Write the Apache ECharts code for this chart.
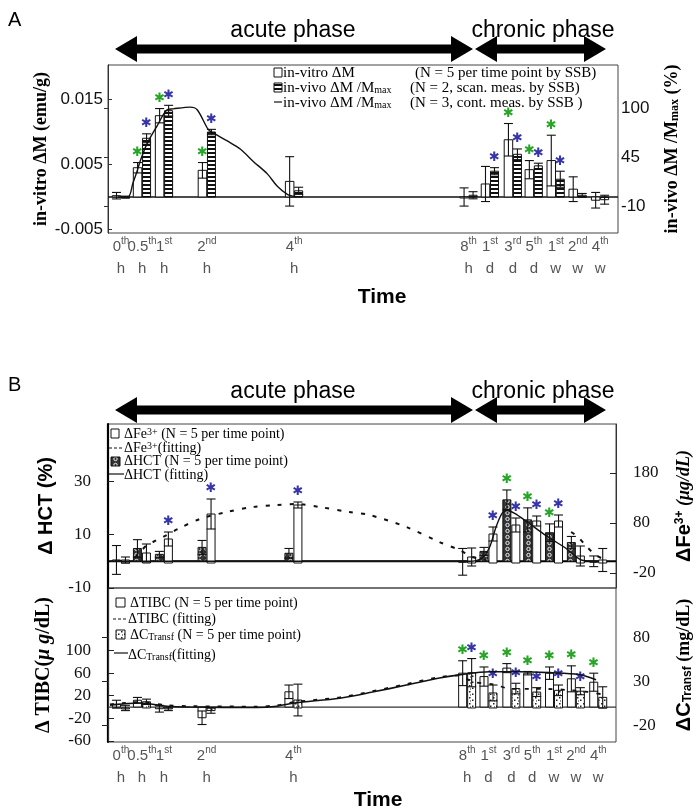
<!DOCTYPE html>
<html><head><meta charset="utf-8">
<script src="https://cdn.jsdelivr.net/npm/echarts@6/dist/echarts.min.js"></script>
<style>html,body{margin:0;padding:0;background:#fff}#c{width:698px;height:812px}</style>
</head><body><div id="c"></div><script>
// ---------- categories (time points) ----------
const timeLabels = [['0','th','h'],['0.5','th','h'],['1','st','h'],['2','nd','h'],['4','th','h'],['8','th','h'],['1','st','d'],['3','rd','d'],['5','th','d'],['1','st','w'],['2','nd','w'],['4','th','w']];
// position of each time point on the (compressed, broken) time axis, 0..100
const timeSlot = [2.55, 6.68, 11.0, 19.4, 36.5, 70.7, 74.9, 79.4, 83.5, 87.8, 92.1, 96.5];

// ---------- panel A ----------
const inVitroDM    = [0.0002, 0.0045, 0.0125, 0.0041, 0.0024, 0.0000, 0.0020, 0.0088, 0.0042, 0.0056, 0.0012, -0.0005];
const inVitroErr   = [0.0005, 0.0008, 0.0011, 0.0012, 0.0038, 0.0014, 0.0027, 0.0025, 0.0014, 0.0039, 0.0019, 0.0012];
const inVitroSig   = [0,1,1,1,0,0,0,1,1,1,0,0];
const inVivoScan   = [0, 66, 97, 73, 7, 2, 29, 48, 35, 20, 2, -3];
const inVivoScanErr= [1, 5, 6, 3, 4, 4, 4, 6, 3, 9, 2, 5];
const inVivoScanSig= [0,1,1,1,0,0,1,1,1,1,0,0];
const contSlot = [1.96, 3.93, 4.91, 5.70, 6.29, 7.66, 9.63, 11.59, 12.77, 16.11, 17.49, 19.65, 20.63, 23.38, 25.93, 28.49, 31.24, 33.20, 35.17, 36.94];
const contVal  = [0, 0, 16, 29, 40, 60, 80, 98, 99, 101, 98, 76, 72, 63, 54, 40, 26, 12, 3, 0];

// ---------- panel B top ----------
const hct    = [0.5, 4.8, 2.6, 5.2, 3.0, -0.2, 3.7, 23, 15.5, 10.7, 7, 0];
const hctErr = [5.4, 3.3, 1.1, 2.6, 1.8, 5, 1.5, 3.7, 4.5, 3.3, 2.3, 2];
const hctSig = [0,0,0,0,0,0,0,1,1,1,0,0];
const fe     = [6, 20, 48, 98, 116, 12, 58, 76, 84, 84, 14, 6];
const feErr  = [6, 18, 14, 30, 6, 18, 14, 14, 10, 12, 20, 23];
const feSig  = [0,0,1,1,1,0,1,1,1,1,0,0];
const feFitSlot = [5.30, 7.66, 8.84, 10.81, 14.15, 18.07, 23.38, 28.49, 33.20, 37.33, 41.65, 47.54, 51.47, 58.74, 65.23, 69.16, 71.71, 74.46, null, 91.16, 92.53, 94.30, 96.27, 98.62];
const feFitVal  = [10, 36, 42, 52, 70, 88, 102, 112, 116, 118, 112, 102, 96, 72, 42, 26, 12, 6, null, 62, 52, 32, 14, 4];
const hctFitSlot = [0.39, 71.12, 73.48, 75.05, 76.42, 77.60, 78.59, 79.96, 82.32, 86.25, 90.18, 93.32, 96.66];
const hctFitVal  = [0, 0, 1, 5, 13, 18, 19, 18, 15, 9.6, 4.8, 0.4, 0];

// ---------- panel B bottom ----------
const tibc      = [5, 12, -3, -19, 27, 60, 54, 69, 60, 60, 50, 44];
const tibcErr   = [7, 5, 6, 12, 12, 22, 17, 8, 3, 11, 23, 16];
const tibcSig   = [0,0,0,0,0,1,1,1,1,1,1,1];
const transf    = [0, 7, -1, -3, 9, 40, 17, 22, 18, 20, 19, 12];
const transfErr = [3, 3, 2, 3, 18, 16, 9, 6, 5, 6, 4, 12];
const transfSig = [0,0,0,0,0,1,1,1,1,1,1,0];
const tibcFitSlot = [0.39, 6.29, 11.59, 16.11, 29.27, 33.20, 36.74, 45.58, 52.06, 58.74, 65.23, 69.16, 71.71, 76.03, 79.37, 83.30, 86.64, 90.77, 94.30, 97.64];
const tibcFitVal  = [4.7, 8.9, 3, 1.6, 0.8, 3, 8.9, 17.2, 28, 40.7, 53, 56, 45, 40, 32, 32, 32, 30, 27, 22];
const transfFitSlot = [0.39, 6.29, 11.59, 16.11, 29.27, 33.20, 36.74, 45.58, 52.06, 58.74, 65.23, 69.16, 75.05, 80.94, 86.84, 92.73, 96.07];
const transfFitVal  = [3, 5.7, 2, 1, 0.5, 2, 5.7, 11, 18, 26, 34, 37.5, 41, 41, 40, 38, 32];

// ---------- tick labels ----------
const ticksA_L = [-0.005, 0.005, 0.015];
const ticksA_R = [-10, 45, 100];
const ticksB1_L = [-10, 10, 30];
const ticksB1_R = [-20, 80, 180];
const ticksB2_L = [-60, -20, 20, 60, 100];
const ticksB2_R = [-20, 30, 80];

// ---------- patterns ----------
function pat(w, h, draw) {
  const c = document.createElement('canvas'); c.width = w; c.height = h;
  const ctx = c.getContext('2d'); draw(ctx); return { image: c, repeat: 'repeat' };
}
const stripe = pat(4, 4, ctx => { ctx.fillStyle = '#fff'; ctx.fillRect(0,0,4,4); ctx.fillStyle = '#111'; ctx.fillRect(0,0,4,2); });
const checker = pat(7, 6, ctx => { ctx.fillStyle = '#333'; ctx.fillRect(0,0,7,6); ctx.strokeStyle = '#eee'; ctx.lineWidth = 1; ctx.beginPath(); ctx.arc(3.5,3,1.7,0,Math.PI*2); ctx.stroke(); });
const dotted = pat(6, 6, ctx => { ctx.fillStyle = '#fff'; ctx.fillRect(0,0,6,6); ctx.fillStyle = '#222'; ctx.fillRect(1,1,1.5,1.5); ctx.fillRect(4,3.5,1.5,1.5); ctx.fillRect(2,4.5,1,1); });

const GREEN = '#27a527', BLUE = '#3535a8';

function barRender(offset, width, fill, starColor) {
  return function (params, api) {
    const s = api.value(0), v = api.value(1), e = api.value(2), sig = api.value(3);
    const base = api.coord([s, 0]), top = api.coord([s, v]);
    const hi = api.coord([s, v + e]), lo = api.coord([s, v - e]);
    const cx = base[0] + offset;
    const yTop = Math.min(base[1], top[1]);
    const h = Math.max(Math.abs(base[1] - top[1]), 1);
    const ls = { stroke: '#111', lineWidth: 1.1 };
    const ch = [
      { type: 'rect', shape: { x: cx - width / 2, y: yTop, width: width, height: h }, style: { fill: fill, stroke: '#111', lineWidth: 1 } },
      { type: 'line', shape: { x1: cx, y1: hi[1], x2: cx, y2: lo[1] }, style: ls },
      { type: 'line', shape: { x1: cx - 4.5, y1: hi[1], x2: cx + 4.5, y2: hi[1] }, style: ls },
      { type: 'line', shape: { x1: cx - 4.5, y1: lo[1], x2: cx + 4.5, y2: lo[1] }, style: ls }
    ];
    if (sig) ch.push({ type: 'text', x: cx, y: Math.min(hi[1], yTop) - 10,
      style: { text: '✱', fill: starColor, fontSize: 13, fontFamily: 'DejaVu Sans', align: 'center', verticalAlign: 'middle' } });
    return { type: 'group', children: ch };
  };
}
function barData(vals, errs, sig) { return timeSlot.map((s, i) => [s, vals[i], errs[i], sig[i]]); }
function lineData(xs, ys) { return xs.map((x, i) => x === null ? [null, null] : [x, ys[i]]); }

const labelRich = {
  n: { fontFamily: 'Liberation Sans', fontSize: 15, color: '#555', lineHeight: 22 },
  s: { fontFamily: 'Liberation Sans', fontSize: 10, color: '#555', lineHeight: 14, verticalAlign: 'top' },
  u: { fontFamily: 'Liberation Sans', fontSize: 15, color: '#555', lineHeight: 22 }
};
function timeFmt(val) {
  const i = timeSlot.findIndex(s => Math.abs(s - val) < 0.01);
  if (i < 0) return '';
  const t = timeLabels[i];
  return '{n|' + t[0] + '}{s|' + t[1] + '}\n{u|' + t[2] + '}';
}
// labels split over two axes per panel so neighbouring labels are never auto-hidden
const slotsEven = timeSlot.filter((s, i) => i % 2 === 0);
const slotsOdd = timeSlot.filter((s, i) => i % 2 === 1);
function xAx(gi, labelSlots) {
  return { gridIndex: gi, type: 'value', position: 'bottom', offset: 0, min: 0, max: 100, axisLine: { show: false }, axisTick: { show: false }, splitLine: { show: false },
    axisLabel: { show: !!labelSlots, customValues: labelSlots || timeSlot, formatter: timeFmt, rich: labelRich, margin: 3, interval: 0,
      showMinLabel: true, showMaxLabel: true, hideOverlap: false } };
}
function yAx(gi, pos, min, max, ticks, opts) {
  return Object.assign({ gridIndex: gi, type: 'value', position: pos, min: min, max: max, splitLine: { show: false },
    axisLine: { show: true, lineStyle: { color: '#333', width: 1 } },
    axisTick: { show: true, inside: true, length: 6, customValues: ticks, lineStyle: { color: '#222' } },
    axisLabel: { customValues: ticks, color: '#111', fontFamily: 'Liberation Serif', fontSize: 17, margin: 17, showMinLabel: true, showMaxLabel: true },
    nameLocation: 'middle', nameRotate: 90, nameMoveOverlap: false }, opts);
}
const serifBold = { fontFamily: 'Liberation Serif', fontWeight: 'bold', fontSize: 18, color: '#000' };
const sansBold = { fontFamily: 'Liberation Sans', fontWeight: 'bold', fontSize: 20, color: '#000' };

function arrow(x1, x2, y) {
  const hd = 22, hh = 13, sh = 4.5;
  return { type: 'polygon', shape: { points: [[x1,y],[x1+hd,y-hh],[x1+hd,y-sh],[x2-hd,y-sh],[x2-hd,y-hh],[x2,y],[x2-hd,y+hh],[x2-hd,y+sh],[x1+hd,y+sh],[x1+hd,y+hh]] }, style: { fill: '#000' } };
}
function txt(x, y, text, style) {
  return { type: 'text', x: x, y: y, style: Object.assign({ text: text, fill: '#000', verticalAlign: 'middle' }, style) };
}
const legSerif = { fontFamily: 'Liberation Serif', fontSize: 15 };
const legSerifB = { fontFamily: 'Liberation Serif', fontSize: 14 };
const subRich = {
  s: { fontFamily: 'Liberation Serif', fontSize: 10, verticalAlign: 'bottom', lineHeight: 10 },
  p: { fontFamily: 'Liberation Serif', fontSize: 10, verticalAlign: 'top', lineHeight: 10 }
};

const graphic = [
  txt(8, 20, 'A', { fontFamily: 'Liberation Sans', fontSize: 20 }),
  txt(8, 385, 'B', { fontFamily: 'Liberation Sans', fontSize: 20 }),
  txt(293, 31, 'acute phase', { fontFamily: 'Liberation Sans', fontSize: 23, align: 'center' }),
  txt(543, 31, 'chronic phase', { fontFamily: 'Liberation Sans', fontSize: 23, align: 'center' }),
  arrow(115, 473, 49), arrow(475, 606, 49),
  txt(293, 392, 'acute phase', { fontFamily: 'Liberation Sans', fontSize: 23, align: 'center' }),
  txt(543, 392, 'chronic phase', { fontFamily: 'Liberation Sans', fontSize: 23, align: 'center' }),
  arrow(115, 473, 410), arrow(475, 606, 410),
  txt(382, 297, 'Time', { fontFamily: 'Liberation Sans', fontSize: 21, fontWeight: 'bold', align: 'center' }),
  txt(378, 800, 'Time', { fontFamily: 'Liberation Sans', fontSize: 21, fontWeight: 'bold', align: 'center' }),
  // legend A
  { type: 'rect', shape: { x: 274, y: 68, width: 8, height: 9 }, style: { fill: '#fff', stroke: '#111', lineWidth: 1 } },
  txt(283, 73, 'in-vitro ΔM', legSerif),
  txt(415, 73, '(N = 5 per time point by SSB)', legSerif),
  { type: 'rect', shape: { x: 274, y: 83, width: 8, height: 9 }, style: { fill: stripe, stroke: '#111', lineWidth: 1 } },
  txt(283, 88, '{a|in-vivo ΔM /M}{s|max}', Object.assign({ rich: Object.assign({ a: legSerif }, subRich) }, legSerif)),
  txt(410, 88, '(N = 2, scan. meas. by SSB)', legSerif),
  { type: 'line', shape: { x1: 274, y1: 102, x2: 282, y2: 102 }, style: { stroke: '#111', lineWidth: 1.2 } },
  txt(283, 103, '{a|in-vivo ΔM /M}{s|max}', Object.assign({ rich: Object.assign({ a: legSerif }, subRich) }, legSerif)),
  txt(410, 103, '(N = 3, cont. meas. by SSB )', legSerif),
  // legend B top
  { type: 'rect', shape: { x: 111, y: 429, width: 8, height: 9 }, style: { fill: '#fff', stroke: '#111', lineWidth: 1 } },
  txt(124, 434, '{a|ΔFe}{p|3+}{a| (N = 5 per time point)}', Object.assign({ rich: Object.assign({ a: legSerifB }, subRich) }, legSerifB)),
  { type: 'line', shape: { x1: 109, y1: 448, x2: 124, y2: 448 }, style: { stroke: '#111', lineWidth: 1, lineDash: [3, 2] } },
  txt(124, 448, '{a|ΔFe}{p|3+}{a|(fitting)}', Object.assign({ rich: Object.assign({ a: legSerifB }, subRich) }, legSerifB)),
  { type: 'rect', shape: { x: 111, y: 457, width: 9, height: 9 }, style: { fill: checker, stroke: '#111', lineWidth: 1 } },
  txt(124, 461, 'ΔHCT (N = 5 per time point)', legSerifB),
  { type: 'line', shape: { x1: 109, y1: 474, x2: 124, y2: 474 }, style: { stroke: '#111', lineWidth: 1.2 } },
  txt(124, 475, 'ΔHCT (fitting)', legSerifB),
  // legend B bottom
  { type: 'rect', shape: { x: 116, y: 598, width: 9, height: 9 }, style: { fill: '#fff', stroke: '#111', lineWidth: 1 } },
  txt(130, 603, 'ΔTIBC (N = 5 per time point)', legSerifB),
  { type: 'line', shape: { x1: 113, y1: 619, x2: 127, y2: 619 }, style: { stroke: '#111', lineWidth: 1, lineDash: [3, 2] } },
  txt(128, 619, 'ΔTIBC (fitting)', legSerifB),
  { type: 'rect', shape: { x: 116, y: 630, width: 9, height: 9 }, style: { fill: dotted, stroke: '#111', lineWidth: 1 } },
  txt(130, 635, '{a|ΔC}{s|Transf}{a| (N = 5 per time point)}', Object.assign({ rich: Object.assign({ a: legSerifB }, subRich) }, legSerifB)),
  { type: 'line', shape: { x1: 114, y1: 653, x2: 128, y2: 653 }, style: { stroke: '#111', lineWidth: 1.2 } },
  txt(128, 655, '{a|ΔC}{s|Transf}{a|(fitting)}', Object.assign({ rich: Object.assign({ a: legSerifB }, subRich) }, legSerifB))
];

const chart = echarts.init(document.getElementById('c'), null, { renderer: 'canvas' });
chart.setOption({
  animation: false,
  backgroundColor: '#fff',
  grid: [
    { left: 108, top: 65, width: 510, height: 168, show: true, borderColor: '#444', borderWidth: 1, outerBoundsMode: 'none' },
    { left: 108, top: 424, width: 508, height: 164, show: true, borderColor: '#444', borderWidth: 1, outerBoundsMode: 'none' },
    { left: 108, top: 588, width: 508, height: 154, show: true, borderColor: '#444', borderWidth: 1, outerBoundsMode: 'none' }
  ],
  xAxis: [xAx(0, slotsEven), xAx(1, null), xAx(2, slotsEven), xAx(0, slotsOdd), xAx(2, slotsOdd)],
  yAxis: [
    yAx(0, 'left', -0.00554, 0.0203, ticksA_L, {
      axisLabel: { customValues: ticksA_L, color: '#111', fontFamily: 'Liberation Sans', fontSize: 17, margin: 5, showMinLabel: true, showMaxLabel: true },
      axisTick: { show: true, inside: true, length: 4, customValues: ticksA_L },
      name: 'in-vitro ΔM (emu/g)', nameGap: 58, nameTextStyle: serifBold }),
    yAx(0, 'right', -40.4, 148.3, ticksA_R, {
      axisLabel: { customValues: ticksA_R, color: '#111', fontFamily: 'Liberation Sans', fontSize: 17, margin: 3, showMinLabel: true, showMaxLabel: true },
      axisTick: { show: true, inside: true, length: 4, customValues: ticksA_R },
      name: '{a|in-vivo ΔM /M}{s|max}{a| (%)}', nameGap: 45,
      nameTextStyle: Object.assign({ rich: { a: serifBold, s: { fontFamily: 'Liberation Serif', fontWeight: 'bold', fontSize: 12, verticalAlign: 'bottom' } } }, serifBold) }),
    yAx(1, 'left', -10, 51.4, ticksB1_L, {
      axisLine: { show: true, lineStyle: { color: '#000', width: 2.2 } },
      name: 'Δ HCT (%)', nameGap: 52, nameTextStyle: sansBold }),
    yAx(1, 'right', -50, 278, ticksB1_R, {
      name: '{a|ΔFe}{p|3+}{b| (μg/dL)}', nameGap: 58,
      nameTextStyle: Object.assign({ rich: { a: sansBold, p: { fontFamily: 'Liberation Sans', fontWeight: 'bold', fontSize: 12, verticalAlign: 'top' },
        b: { fontFamily: 'Liberation Serif', fontStyle: 'italic', fontWeight: 'bold', fontSize: 18 } } }, sansBold) }),
    yAx(2, 'left', -62, 211, ticksB2_L, {
      axisLine: { show: true, lineStyle: { color: '#000', width: 2.2 } },
      name: '{a|Δ TIBC(}{i|μ g}{a|/dL)}', nameGap: 54,
      nameTextStyle: Object.assign({ rich: { a: Object.assign({}, serifBold, { fontSize: 20 }), i: Object.assign({}, serifBold, { fontSize: 20, fontStyle: 'italic' }) } }, serifBold) }),
    yAx(2, 'right', -38.6, 136, ticksB2_R, {
      name: '{a|ΔC}{s|Transf}{b| (mg/dL)}', nameGap: 58,
      nameTextStyle: Object.assign({ rich: { a: sansBold, s: { fontFamily: 'Liberation Sans', fontWeight: 'bold', fontSize: 12, verticalAlign: 'bottom' },
        b: { fontFamily: 'Liberation Serif', fontWeight: 'bold', fontSize: 18 } } }, sansBold) })
  ],
  series: [
    // panel A
    { type: 'line', xAxisIndex: 0, yAxisIndex: 0, data: [[0, 0], [100, 0]], symbol: 'none', lineStyle: { color: '#111', width: 1.6 }, silent: true, z: 1 },
    { type: 'custom', xAxisIndex: 0, yAxisIndex: 0, data: barData(inVitroDM, inVitroErr, inVitroSig), renderItem: barRender(-4.5, 8.5, '#fff', GREEN), encode: { x: 0, y: 1 }, z: 2 },
    { type: 'custom', xAxisIndex: 0, yAxisIndex: 1, data: barData(inVivoScan, inVivoScanErr, inVivoScanSig), renderItem: barRender(4.5, 8, stripe, BLUE), encode: { x: 0, y: 1 }, z: 2 },
    { type: 'line', xAxisIndex: 0, yAxisIndex: 1, data: lineData(contSlot, contVal), symbol: 'none', smooth: 0.3, lineStyle: { color: '#111', width: 1.4 }, z: 3 },
    // panel B top
    { type: 'line', xAxisIndex: 1, yAxisIndex: 2, data: [[0, 0], [100, 0]], symbol: 'none', lineStyle: { color: '#000', width: 2 }, silent: true, z: 1 },
    { type: 'custom', xAxisIndex: 1, yAxisIndex: 2, data: barData(hct, hctErr, hctSig), renderItem: barRender(-4.5, 8, checker, GREEN), encode: { x: 0, y: 1 }, z: 2 },
    { type: 'custom', xAxisIndex: 1, yAxisIndex: 3, data: barData(fe, feErr, feSig), renderItem: barRender(4.5, 8, '#fff', BLUE), encode: { x: 0, y: 1 }, z: 2 },
    { type: 'line', xAxisIndex: 1, yAxisIndex: 3, data: lineData(feFitSlot, feFitVal), symbol: 'none', smooth: 0.3, connectNulls: false, lineStyle: { color: '#111', width: 2, type: [4, 8] }, z: 3 },
    { type: 'line', xAxisIndex: 1, yAxisIndex: 2, data: lineData(hctFitSlot, hctFitVal), symbol: 'none', smooth: 0.3, lineStyle: { color: '#111', width: 1.4 }, z: 3 },
    // panel B bottom
    { type: 'line', xAxisIndex: 2, yAxisIndex: 4, data: [[0, 0], [100, 0]], symbol: 'none', lineStyle: { color: '#333', width: 1.2 }, silent: true, z: 1 },
    { type: 'custom', xAxisIndex: 2, yAxisIndex: 4, data: barData(tibc, tibcErr, tibcSig), renderItem: barRender(-4.5, 8, '#fff', GREEN), encode: { x: 0, y: 1 }, z: 2 },
    { type: 'custom', xAxisIndex: 2, yAxisIndex: 5, data: barData(transf, transfErr, transfSig), renderItem: barRender(4.5, 8, dotted, BLUE), encode: { x: 0, y: 1 }, z: 2 },
    { type: 'line', xAxisIndex: 2, yAxisIndex: 4, data: lineData(tibcFitSlot, tibcFitVal), symbol: 'none', smooth: 0.3, lineStyle: { color: '#111', width: 1.8, type: [4, 8] }, z: 3 },
    { type: 'line', xAxisIndex: 2, yAxisIndex: 5, data: lineData(transfFitSlot, transfFitVal), symbol: 'none', smooth: 0.3, lineStyle: { color: '#111', width: 1.6 }, z: 3 }
  ],
  graphic: graphic
});
</script></body></html>
